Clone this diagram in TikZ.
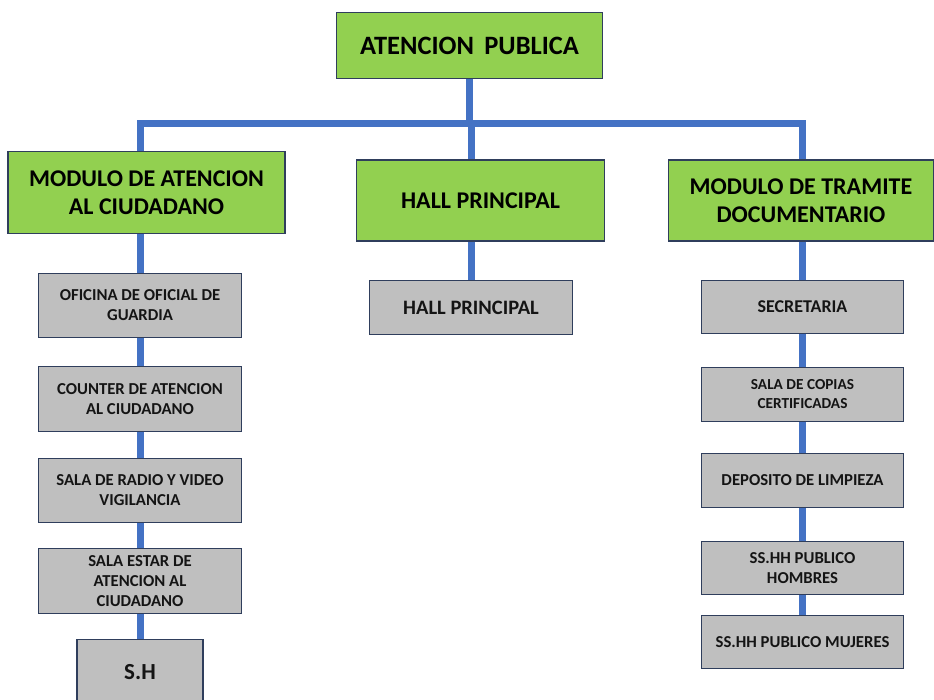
\documentclass[tikz,border=0pt]{standalone}
\usepackage{fontspec}
\setmainfont{Carlito}
\usepackage{tikz}
\usetikzlibrary{positioning}
\definecolor{boxgreen}{RGB}{146,208,80}
\definecolor{boxgray}{RGB}{191,191,191}
\definecolor{boxedge}{RGB}{47,62,92}
\definecolor{linkblue}{RGB}{68,114,196}
\definecolor{boxtext}{RGB}{20,20,20}
\tikzstyle{headbox} = [rectangle, fill=boxgreen, draw=boxedge, line width=1.4pt,
align=center, inner sep=0pt, font=\bfseries\fontsize{24}{28}\selectfont]
\tikzstyle{roombox} = [rectangle, fill=boxgray, draw=boxedge, line width=1.4pt,
minimum width=203pt, inner sep=0pt, align=center, text=boxtext,
font=\bfseries\fontsize{16.7}{20}\selectfont]
\tikzstyle{link} = [line width=7pt, draw=linkblue, line join=miter]

\begin{document}
\begin{tikzpicture}[x=1pt, y=1pt]
    \useasboundingbox (0,0) rectangle (934,-699);

    % top and second level
    \node (top)  [headbox, minimum width=266pt, minimum height=66pt,
                  font=\bfseries\fontsize{26.5}{30}\selectfont] at (469.5,-45.5) {ATENCION\, PUBLICA};
    \node (mod1) [headbox, minimum width=277pt, minimum height=82pt] at (146.5,-192.5) {MODULO DE ATENCION\\AL CIUDADANO};
    \node (hall) [headbox, minimum width=248pt, minimum height=81pt] at (480.5,-200.5) {HALL PRINCIPAL};
    \node (mod2) [headbox, minimum width=265pt, minimum height=81pt] at (801,-200.5) {MODULO DE TRAMITE\\DOCUMENTARIO};

    % left column
    \node (ofic)   [roombox, minimum height=64.3pt] at (140,-305.5) {OFICINA DE OFICIAL DE\\GUARDIA};
    \node (count)  [roombox, minimum height=65.3pt, below=27.3pt of ofic]  {COUNTER DE ATENCION\\AL CIUDADANO};
    \node (radio)  [roombox, minimum height=64.3pt, below=25.3pt of count] {SALA DE RADIO Y VIDEO\\VIGILANCIA};
    \node (estar)  [roombox, minimum height=65.3pt, below=24.3pt of radio] {SALA ESTAR DE\\ATENCION AL\\CIUDADANO};
    \node (sh)     [roombox, minimum width=126pt, minimum height=66pt, below=24.3pt of estar,
                    font=\bfseries\fontsize{23}{26}\selectfont] {S.H};

    % middle column
    \node (hall2)  [roombox, minimum height=54.3pt,
                    font=\bfseries\fontsize{20.5}{24}\selectfont] at (471,-307.5) {HALL PRINCIPAL};

    % right column
    \node (secre)  [roombox, minimum width=202pt, minimum height=53.3pt,
                    font=\bfseries\fontsize{18}{22}\selectfont] at (802.5,-307) {SECRETARIA};
    \node (copias) [roombox, minimum width=202pt, minimum height=54.3pt, below=32.3pt of secre,
                    font=\bfseries\fontsize{15.3}{19}\selectfont] {SALA DE COPIAS\\CERTIFICADAS};
    \node (limp)   [roombox, minimum width=202pt, minimum height=54.3pt, below=30.3pt of copias] {DEPOSITO DE LIMPIEZA};
    \node (homb)   [roombox, minimum width=202pt, minimum height=53.3pt, below=32.3pt of limp] {SS.HH PUBLICO\\HOMBRES};
    \node (muj)    [roombox, minimum width=202pt, minimum height=53.3pt, below=19.3pt of homb] {SS.HH PUBLICO MUJERES};

    % connectors
    \coordinate (bus) at (0,-123);
    \draw[link] (top.south) -- (top.south |- bus);
    \draw[link] (ofic.north |- mod1.north) -- (ofic.north |- bus) -- (secre.north |- bus) -- (secre.north |- mod2.north);
    \draw[link] (hall2.north |- bus) -- (hall2.north |- hall.north);
    \draw[link] (ofic.north |- mod1.south) -- (ofic.north);
    \draw[link] (hall2.north |- hall.south) -- (hall2.north);
    \draw[link] (secre.north |- mod2.south) -- (secre.north);
    \draw[link] (ofic)  -- (count);
    \draw[link] (count) -- (radio);
    \draw[link] (radio) -- (estar);
    \draw[link] (estar) -- (sh);
    \draw[link] (secre)  -- (copias);
    \draw[link] (copias) -- (limp);
    \draw[link] (limp)   -- (homb);
    \draw[link] (homb)   -- (muj);
\end{tikzpicture}
\end{document}
